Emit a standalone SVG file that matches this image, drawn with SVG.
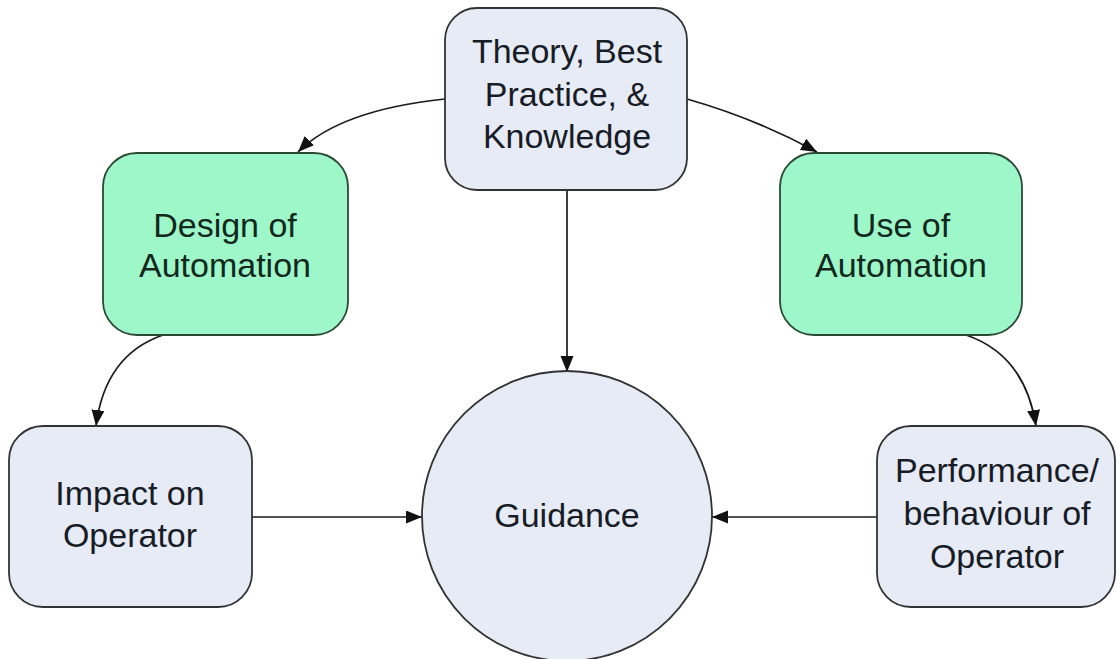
<svg xmlns="http://www.w3.org/2000/svg" width="1117" height="659" viewBox="0 0 1117 659">
  <style>
    .blue { fill: #e6ebf5; stroke: #333; stroke-width: 1.8; }
    .green { fill: #9ef7c9; stroke: #2b4a36; stroke-width: 1.8; }
    .t { font-family: "Liberation Sans", Arial, sans-serif; font-size: 34px; text-anchor: middle; fill: #181c26; }
    .tg { font-family: "Liberation Sans", Arial, sans-serif; font-size: 34px; text-anchor: middle; fill: #12281d; }
    .c { fill: none; stroke: #1a1a1a; stroke-width: 1.7; marker-end: url(#arr); }
  </style>
  <defs>
    <marker id="arr" markerUnits="userSpaceOnUse" markerWidth="18" markerHeight="14" refX="16" refY="6.5" orient="auto">
      <path d="M0,0 L16,6.5 L0,13 z" fill="#111"/>
    </marker>
  </defs>
  <rect width="1117" height="659" fill="#ffffff"/>

  <g id="connectors">
    <path class="c" d="M445,99 Q340,110 298,152"/>
    <path class="c" d="M687,99 Q757,119 817,152"/>
    <path class="c" d="M567,190 L567,372"/>
    <path class="c" d="M163,335 Q105,355 96,426"/>
    <path class="c" d="M966,335 Q1025,355 1036,426"/>
    <path class="c" d="M252,517 L422,517"/>
    <path class="c" d="M877,517 L712,517"/>
  </g>

  <g id="theory">
    <rect class="blue" x="445" y="8" width="242" height="182" rx="32"/>
    <text class="t" x="567" y="63">Theory, Best</text>
    <text class="t" x="567" y="106">Practice, &amp;</text>
    <text class="t" x="567" y="148">Knowledge</text>
  </g>

  <g id="design">
    <rect class="green" x="103" y="153" width="245" height="182" rx="34"/>
    <text class="tg" x="225" y="237">Design of</text>
    <text class="tg" x="225" y="277">Automation</text>
  </g>

  <g id="use">
    <rect class="green" x="780" y="153" width="242" height="182" rx="34"/>
    <text class="tg" x="901" y="237">Use of</text>
    <text class="tg" x="901" y="277">Automation</text>
  </g>

  <g id="impact">
    <rect class="blue" x="9" y="426" width="243" height="181" rx="34"/>
    <text class="t" x="130" y="505">Impact on</text>
    <text class="t" x="130" y="547">Operator</text>
  </g>

  <g id="performance">
    <rect class="blue" x="877" y="426" width="238" height="181" rx="34"/>
    <text class="t" x="997" y="482">Performance/</text>
    <text class="t" x="997" y="525">behaviour of</text>
    <text class="t" x="997" y="568">Operator</text>
  </g>

  <g id="guidance">
    <circle class="blue" cx="567" cy="516" r="145"/>
    <text class="t" x="567" y="527">Guidance</text>
  </g>
</svg>
